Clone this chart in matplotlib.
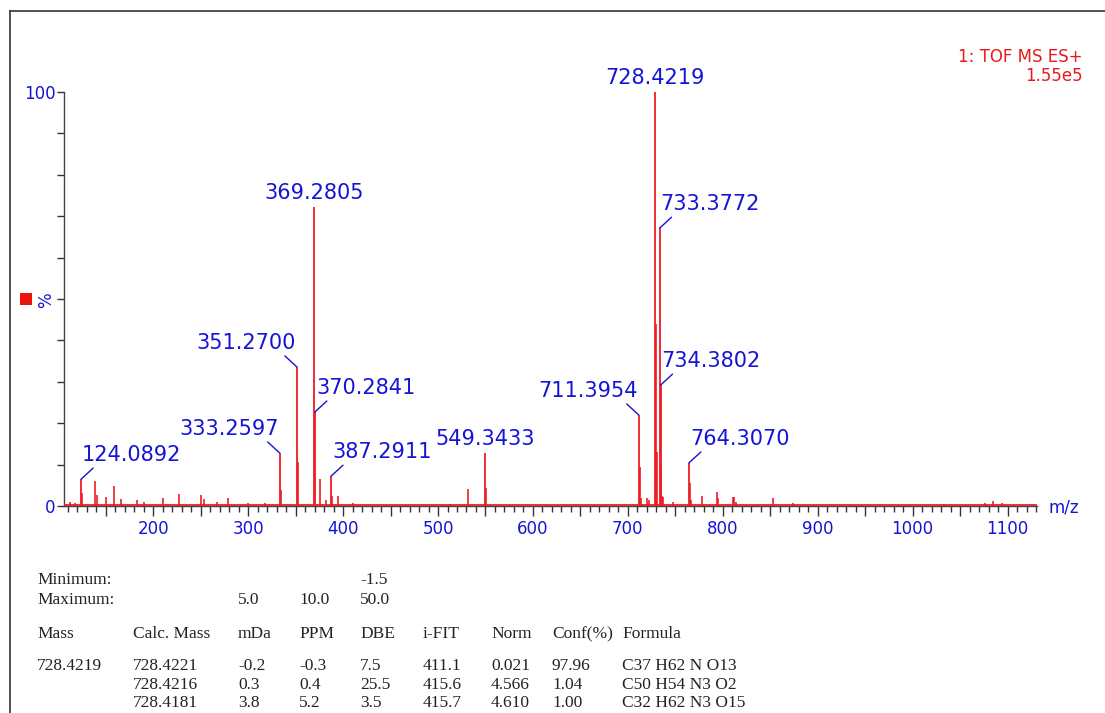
import matplotlib
matplotlib.use("Agg")
import matplotlib.pyplot as plt
from matplotlib.ticker import MultipleLocator, FuncFormatter
from matplotlib.patches import Rectangle
from matplotlib.lines import Line2D

# ---------------- data ----------------
# labelled peaks (m/z, relative intensity %)
label_mz = [124.0892, 333.2597, 351.2700, 369.2805, 370.2841, 387.2911,
            549.3433, 711.3954, 728.4219, 733.3772, 734.3802, 764.3070]
label_int = [6.5, 12.8, 33.6, 72.2, 22.7, 7.2,
             12.8, 22.0, 100.0, 67.1, 29.2, 10.4]

# other (unlabelled) peaks
minor_mz = [112.0, 118.0, 125.09, 139.1, 140.5, 150.5, 159.1, 166.0, 183.0,
            190.0, 210.0, 227.5, 250.0, 253.0, 267.5, 279.0, 300.0, 318.0,
            334.26, 352.27, 375.3, 382.0, 388.29, 395.0, 410.0, 513.0,
            531.3, 550.35, 712.40, 713.40, 720.0, 722.0, 729.42, 730.43,
            735.38, 736.40, 737.40, 748.0, 765.31, 766.3, 778.0, 794.0,
            795.0, 810.5, 812.0, 814.0, 853.0, 874.0, 1033.0, 1076.0,
            1085.0, 1094.0]
minor_int = [1.0, 0.8, 3.2, 6.1, 2.7, 2.2, 4.8, 1.7, 1.4,
             1.0, 2.0, 2.9, 2.7, 1.8, 1.0, 2.0, 0.8, 0.8,
             3.8, 10.6, 6.5, 1.5, 2.5, 2.4, 0.8, 0.5,
             4.0, 4.3, 9.5, 2.0, 2.0, 1.5, 44.0, 13.0,
             9.0, 2.5, 2.2, 1.0, 5.5, 1.5, 2.4, 3.4,
             2.0, 2.2, 2.2, 1.0, 2.0, 0.8, 0.5, 0.8,
             1.2, 0.8]

baseline_level = 0.35
x_range = (106, 1131)

x_tick_labels = ["200", "300", "400", "500", "600", "700", "800", "900", "1000", "1100"]
y_tick_labels = {0: "0", 100: "100"}

header_lines = ["1: TOF MS ES+", "1.55e5"]

table_min = ["Minimum:", "", "", "", "-1.5"]
table_max = ["Maximum:", "", "5.0", "10.0", "50.0"]
table_head = ["Mass", "Calc. Mass", "mDa", "PPM", "DBE", "i-FIT", "Norm", "Conf(%)", "Formula"]
table_rows = [
    ["728.4219", "728.4221", "-0.2", "-0.3", "7.5", "411.1", "0.021", "97.96", "C37 H62 N O13"],
    ["", "728.4216", "0.3", "0.4", "25.5", "415.6", "4.566", "1.04", "C50 H54 N3 O2"],
    ["", "728.4181", "3.8", "5.2", "3.5", "415.7", "4.610", "1.00", "C32 H62 N3 O15"],
]

# ---------------- style ----------------
W, H = 1105, 713
BLUE = "#1414d6"
RED = "#ee1c24"
plt.rcParams["font.family"] = ["DejaVu Sans"]

fig = plt.figure(figsize=(W / 100, H / 100), dpi=100)
fig.patch.set_facecolor("white")

def fx(px):
    return px / W

def fy(py):
    return 1 - py / H

ax = fig.add_axes([fx(64), fy(506), fx(1037) - fx(64), fy(92) - fy(506)])
ax.set_xlim(*x_range)
ax.set_ylim(0, 100)

# spectrum
ax.axhline(baseline_level, color=RED, lw=1.3, zorder=3)
ax.vlines(minor_mz, 0, minor_int, color=RED, lw=1.2, zorder=3)
ax.vlines(label_mz, 0, label_int, color=RED, lw=1.3, zorder=3)

# placement of peak labels (style only)
placement = {
    124.0892: "right", 333.2597: "left", 351.2700: "left", 369.2805: "top",
    370.2841: "right", 387.2911: "right", 549.3433: "top", 711.3954: "left",
    728.4219: "top", 733.3772: "right", 734.3802: "right", 764.3070: "right",
}
for m, h in zip(label_mz, label_int):
    txt = f"{m:.4f}"
    p = placement[m]
    if p == "top":
        ax.annotate(txt, xy=(m, h), xytext=(0, 14), textcoords="offset pixels",
                    ha="center", va="center", color=BLUE, fontsize=15,
                    annotation_clip=False)
    else:
        sgn = 1 if p == "right" else -1
        ax.annotate("", xy=(m, h), xytext=(12 * sgn, 11), textcoords="offset pixels",
                    arrowprops=dict(arrowstyle="-", color=BLUE, lw=1.0,
                                    shrinkA=0, shrinkB=0),
                    annotation_clip=False)
        ax.annotate(txt, xy=(m, h), xytext=(1 * sgn, 24), textcoords="offset pixels",
                    ha="left" if sgn > 0 else "right", va="center",
                    color=BLUE, fontsize=15, annotation_clip=False)

# axes styling
for s in ["top", "right"]:
    ax.spines[s].set_visible(False)
for s in ["left", "bottom"]:
    ax.spines[s].set_color("#444444")
    ax.spines[s].set_linewidth(1.0)

ax.xaxis.set_major_locator(MultipleLocator(50))
ax.xaxis.set_minor_locator(MultipleLocator(10))
ax.xaxis.set_major_formatter(FuncFormatter(
    lambda v, pos: (str(int(v)) if (int(round(v)) % 100 == 0 and str(int(round(v))) in x_tick_labels) else "")))
ax.tick_params(axis="x", which="major", length=7, width=1, color="#333333",
               labelcolor=BLUE, labelsize=12, pad=3)
ax.tick_params(axis="x", which="minor", length=4, width=1, color="#333333")

ax.yaxis.set_major_locator(MultipleLocator(10))
ax.yaxis.set_major_formatter(FuncFormatter(
    lambda v, pos: y_tick_labels.get(int(round(v)), "")))
ax.tick_params(axis="y", which="major", length=5, width=1, color="#333333",
               labelcolor=BLUE, labelsize=12, pad=1)

fig.text(fx(1048), fy(508), "m/z", color=BLUE, fontsize=12, ha="left", va="center")
fig.text(fx(46), fy(300), "%", color=BLUE, fontsize=12, rotation=90, ha="center", va="center")
fig.add_artist(Rectangle((fx(20), fy(305)), fx(12), fy(293) - fy(305),
                         transform=fig.transFigure, color="#ee1111", lw=0))

# header
fig.text(fx(1083), fy(57), header_lines[0], color="#e8191e", fontsize=12, ha="right", va="center")
fig.text(fx(1083), fy(76), header_lines[1], color="#e8191e", fontsize=12, ha="right", va="center")

# border
fig.add_artist(Line2D([fx(10), fx(10)], [0, fy(11)], transform=fig.transFigure, color="#333333", lw=1.2))
fig.add_artist(Line2D([fx(10), 1], [fy(11), fy(11)], transform=fig.transFigure, color="#333333", lw=1.2))

# results table
col_x = [37, 133, 238, 299, 360, 423, 491, 552, 622]
tfont = dict(family="Liberation Serif", fontsize=12.5, color="#222222", va="center", ha="left")

def put_row(cells, ypx, cols):
    for c, x in zip(cells, cols):
        if c:
            fig.text(fx(x), fy(ypx), c, **tfont)

put_row(table_min, 580, [37, 133, 238, 299, 360])
put_row(table_max, 600, [37, 133, 238, 299, 360])
put_row(table_head, 634, col_x)
for r, y in zip(table_rows, [666, 685, 703]):
    put_row(r, y, col_x)

fig.savefig("out.png", dpi=100, facecolor="white")
